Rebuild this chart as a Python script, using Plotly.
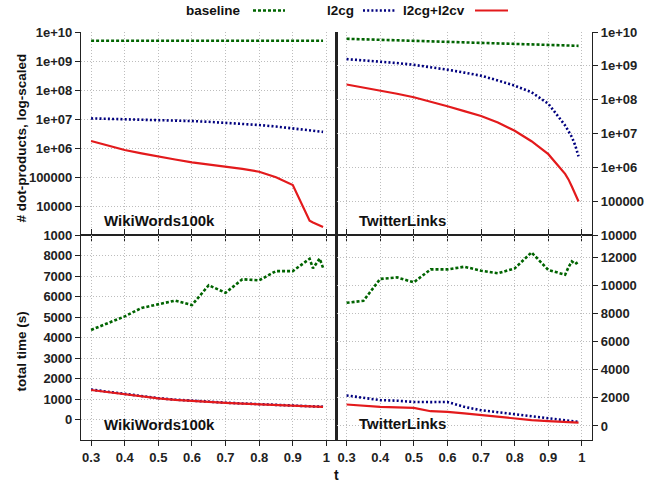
import plotly.graph_objects as go

# ---------------- data ----------------
t = [0.3, 0.35, 0.4, 0.45, 0.5, 0.55, 0.6, 0.65, 0.7, 0.75, 0.8, 0.85, 0.9, 0.95, 0.96, 0.97, 0.98, 0.99]

# WikiWords100k, # dot-products
ww_dp_baseline = [5.0e9] * 18
ww_dp_l2cg = [1.05e7, 1.02e7, 1.0e7, 9.6e6, 9.2e6, 8.9e6, 8.5e6, 8.0e6, 7.4e6, 6.8e6, 6.2e6, 5.5e6,
              4.8e6, 4.2e6, 4.0e6, 3.9e6, 3.7e6, 3.6e6]
ww_dp_l2cv = [1.75e6, 1.2e6, 8.5e5, 6.5e5, 5.0e5, 4.0e5, 3.2e5, 2.7e5, 2.3e5, 1.9e5, 1.52e5, 9.8e4,
              5.3e4, 3.1e3, 2.7e3, 2.4e3, 2.1e3, 1.9e3]

# TwitterLinks, # dot-products
tl_dp_baseline = [6.3e9, 6.1e9, 5.9e9, 5.7e9, 5.5e9, 5.35e9, 5.2e9, 5.05e9, 4.9e9, 4.7e9, 4.5e9, 4.35e9,
                  4.2e9, 4.05e9, 4.0e9, 3.97e9, 3.93e9, 3.9e9]
tl_dp_l2cg = [1.58e9, 1.47e9, 1.35e9, 1.21e9, 1.07e9, 9.2e8, 7.7e8, 6.3e8, 5.1e8, 3.7e8, 2.6e8, 1.66e8,
              7.6e7, 1.74e7, 1.2e7, 7.9e6, 4.5e6, 2.1e6]
tl_dp_l2cv = [2.8e8, 2.3e8, 1.87e8, 1.5e8, 1.18e8, 8.8e7, 6.4e7, 4.6e7, 3.3e7, 2.1e7, 1.2e7, 5.9e6,
              2.45e6, 6.4e5, 4.4e5, 2.7e5, 1.6e5, 9.8e4]

# WikiWords100k, total time (s)
ww_time_baseline = [4370, 4700, 5030, 5440, 5610, 5800, 5580, 6550, 6180, 6840, 6790, 7240,
                    7240, 7840, 7380, 7610, 7850, 7400]
ww_time_l2cg = [1460, 1350, 1250, 1150, 1040, 970, 910, 860, 820, 780, 740, 710,
                660, 640, 635, 630, 628, 625]
ww_time_l2cv = [1440, 1330, 1240, 1140, 1030, 960, 900, 850, 815, 775, 735, 700,
                655, 630, 625, 622, 620, 618]

# TwitterLinks, total time (s)
tl_time_baseline = [8770, 8910, 10470, 10580, 10230, 11150, 11150, 11340, 11060, 10870, 11220, 12360,
                    11110, 10770, 11300, 11720, 11530, 11700]
tl_time_l2cg = [2170, 2000, 1840, 1800, 1710, 1700, 1710, 1360, 1120, 980, 840, 690,
                530, 400, 370, 340, 310, 290]
tl_time_l2cv = [1530, 1440, 1360, 1330, 1290, 1050, 1000, 890, 760, 650, 530, 420,
                340, 290, 275, 260, 250, 240]

x_ticks = [0.3, 0.4, 0.5, 0.6, 0.7, 0.8, 0.9, 1.0]
x_ticktext = ["0.3", "0.4", "0.5", "0.6", "0.7", "0.8", "0.9", "1"]
log_ticks_ww = [1e3, 1e4, 1e5, 1e6, 1e7, 1e8, 1e9, 1e10]
log_text_ww = ["1000", "10000", "100000", "1e+06", "1e+07", "1e+08", "1e+09", "1e+10"]
log_ticks_tl = [1e4, 1e5, 1e6, 1e7, 1e8, 1e9, 1e10]
log_text_tl = ["10000", "100000", "1e+06", "1e+07", "1e+08", "1e+09", "1e+10"]
time_ticks_ww = [0, 1000, 2000, 3000, 4000, 5000, 6000, 7000, 8000]
time_text_ww = ["0", "1000", "2000", "3000", "4000", "5000", "6000", "7000", "8000"]
time_ticks_tl = [0, 2000, 4000, 6000, 8000, 10000, 12000]
time_text_tl = ["0", "2000", "4000", "6000", "8000", "10000", "12000"]

series_names = ["baseline", "l2cg", "l2cg+l2cv"]

# ---------------- styles ----------------
GREEN = "#006400"
BLUE = "#00007f"
RED = "#e31a1c"
styles = [
    dict(color=GREEN, width=2.6, dash="3px,2px"),
    dict(color=BLUE, width=2.6, dash="2px,2.2px"),
    dict(color=RED, width=2.2),
]
FONT = "Liberation Sans, Arial, Helvetica, sans-serif"
TICKFONT = dict(family=FONT, size=13, color="#222", weight="bold")

W, H = 659, 485
ML, MT = 81, 32
MR = W - 592
MB = H - 440
PW = W - ML - MR
PH = H - MT - MB


def px(x):
    return (x - ML) / PW


def py(y):
    return (H - MB - y) / PH


ysplit = py(235)

fig = go.Figure()

panels = [
    ("x", "y", [ww_dp_baseline, ww_dp_l2cg, ww_dp_l2cv]),
    ("x2", "y2", [tl_dp_baseline, tl_dp_l2cg, tl_dp_l2cv]),
    ("x3", "y3", [ww_time_baseline, ww_time_l2cg, ww_time_l2cv]),
    ("x4", "y4", [tl_time_baseline, tl_time_l2cg, tl_time_l2cv]),
]
for xa, ya, data in panels:
    for name, vals, st in zip(series_names, data, styles):
        fig.add_trace(go.Scatter(x=t, y=vals, mode="lines", name=name, line=st,
                                 xaxis=xa, yaxis=ya, showlegend=False))

GRID = dict(showgrid=True, gridcolor="#bdbdbd", griddash="1px,2px", gridwidth=1)
common_x = dict(range=[0.27, 1.03], tickvals=x_ticks, ticktext=x_ticktext, ticks="outside",
                ticklen=5, tickwidth=1, tickcolor="#222", showline=True, linecolor="#222",
                linewidth=1.1, zeroline=False, tickfont=TICKFONT, **GRID)
common_y = dict(ticks="outside", ticklen=5, tickwidth=1, tickcolor="#222", showline=True,
                linecolor="#222", linewidth=1.1, zeroline=False, tickfont=TICKFONT,
                mirror=True, **GRID)

fig.update_layout(
    xaxis=dict(common_x, domain=[0, 0.5], anchor="y", showticklabels=False),
    xaxis2=dict(common_x, domain=[0.5, 1], anchor="y2", showticklabels=False),
    xaxis3=dict(common_x, domain=[0, 0.5], anchor="y3", mirror="ticks"),
    xaxis4=dict(common_x, domain=[0.5, 1], anchor="y4", mirror="ticks"),
    yaxis=dict(common_y, domain=[ysplit, 1], anchor="x", type="log", range=[3, 10],
               tickvals=log_ticks_ww, ticktext=log_text_ww),
    yaxis2=dict(common_y, domain=[ysplit, 1], anchor="x2", type="log", range=[4, 10],
                tickvals=log_ticks_tl, ticktext=log_text_tl, side="right"),
    yaxis3=dict(common_y, domain=[0, ysplit], anchor="x3", range=[-1000, 9000],
                tickvals=time_ticks_ww, ticktext=time_text_ww),
    yaxis4=dict(common_y, domain=[0, ysplit], anchor="x4", range=[-1000, 13600],
                tickvals=time_ticks_tl, ticktext=time_text_tl, side="right"),
    width=W, height=H,
    margin=dict(l=ML, r=MR, t=MT, b=MB, autoexpand=False),
    plot_bgcolor="white", paper_bgcolor="white",
    showlegend=False,
    font=dict(family=FONT, color="#111"),
)

# ------------ legend (text followed by line sample) ------------
legend_items = [
    ("baseline", 243, 253, 285),
    ("l2cg", 356, 363, 395),
    ("l2cg+l2cv", 467, 475, 508),
]
for (label, tx_end, l0, l1), st in zip(legend_items, styles):
    fig.add_annotation(text=label, x=px(tx_end), y=py(10.5), xref="paper", yref="paper",
                       xanchor="right", yanchor="middle", showarrow=False,
                       font=dict(family=FONT, size=13.5, color="#111", weight="bold"))
    fig.add_shape(type="line", x0=px(l0), x1=px(l1), y0=py(10.5), y1=py(10.5),
                  xref="paper", yref="paper", line=st)

# ------------ panel labels ------------
for label, xl, yc in [("WikiWords100k", 101.5, 220), ("TwitterLinks", 356.5, 220),
                      ("WikiWords100k", 101.5, 424), ("TwitterLinks", 356.5, 423.5)]:
    fig.add_annotation(text=label, x=px(xl), y=py(yc), xref="paper", yref="paper",
                       xanchor="left", yanchor="middle", showarrow=False,
                       font=dict(family=FONT, size=15, color="#111", weight="bold"))

# ------------ axis titles ------------
fig.add_annotation(text="# dot-products, log-scaled", x=px(21), y=py(138.5), xref="paper",
                   yref="paper", textangle=-90, showarrow=False, xanchor="center",
                   yanchor="middle", font=dict(family=FONT, size=13.5, color="#111", weight="bold"))
fig.add_annotation(text="total time (s)", x=px(21), y=py(351.5), xref="paper",
                   yref="paper", textangle=-90, showarrow=False, xanchor="center",
                   yanchor="middle", font=dict(family=FONT, size=13.5, color="#111", weight="bold"))
fig.add_annotation(text="t", x=px(336), y=py(475), xref="paper", yref="paper",
                   showarrow=False, xanchor="center", yanchor="middle",
                   font=dict(family=FONT, size=14, color="#111", weight="bold"))

# remove the default 8px page margin so the figure sits at the window's top-left corner
fig.write_html("out.html",
               config={"displayModeBar": False, "staticPlot": True},
               post_script="document.body.style.margin='0';document.body.style.overflow='hidden';")
